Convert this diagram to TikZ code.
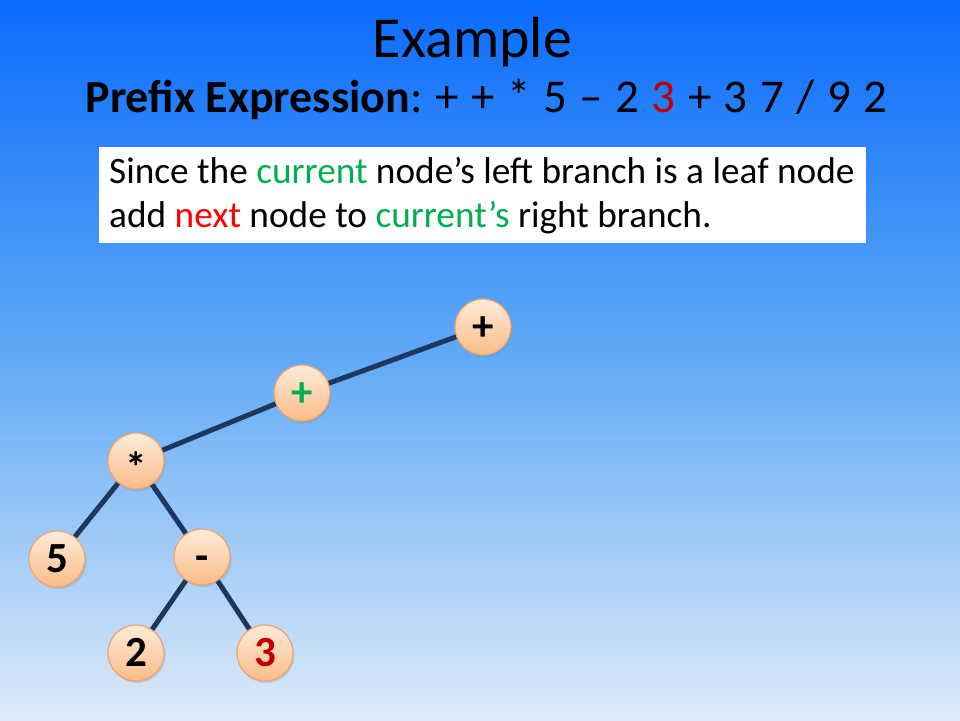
\documentclass[tikz,border=0pt]{standalone}
\usepackage{fontspec}
\setmainfont{Carlito}
\usetikzlibrary{shadows}
\definecolor{bgtop}{RGB}{10,108,252}
\definecolor{bgmid}{RGB}{98,170,246}
\definecolor{bgbot}{RGB}{222,234,249}
\definecolor{peachtop}{RGB}{255,236,218}
\definecolor{peachbot}{RGB}{250,188,136}
\definecolor{peachline}{RGB}{242,162,102}
\definecolor{edgeblue}{RGB}{28,56,94}
\definecolor{curgreen}{RGB}{0,176,80}
\definecolor{nextred}{RGB}{255,0,0}
\definecolor{darkred}{RGB}{192,0,0}
% the filled path is mapped onto the 25bp--75bp band of the shading
\pgfdeclareverticalshading{slidebg}{100bp}{%
  color(0bp)=(bgbot); color(25bp)=(bgbot); color(50bp)=(bgmid);
  color(75bp)=(bgtop); color(100bp)=(bgtop)}
% every node label sits on the same digit-height box
\newcommand{\glyph}[1]{\smash{#1}\vphantom{5}}
\tikzset{
  tnode/.style={circle, minimum size=56pt, inner sep=0pt,
    top color=peachtop, bottom color=peachbot, draw=peachline, line width=1.2pt,
    drop shadow={opacity=0.25, shadow xshift=1.5pt, shadow yshift=-2pt},
    font=\fontsize{43}{43}\selectfont\bfseries},
  branch/.style={draw=edgeblue, line width=5pt},
}
\begin{document}
\begin{tikzpicture}[x=1pt, y=-1pt]
  % slide background
  \shade[shading=slidebg] (0,0) rectangle (960,720);
  \useasboundingbox (0,0) rectangle (960,720);

  % heading
  \node[anchor=base, inner sep=0pt] (title) at (472.5,57) {\fontsize{58}{58}\selectfont Example};
  \node[anchor=base, inner sep=0pt] (expr) at (486.5,112)
    {{\fontsize{46}{46}\selectfont\textbf{Prefix Expression}}{\fontsize{47}{47}\selectfont
    :\spaceskip=12.5pt\ + + * 5 – 2 \textcolor{darkred}{3} + 3 7 / 9 2}};

  % explanation box
  \node[fill=white, inner sep=0pt, minimum width=767pt, minimum height=96pt,
        anchor=north west] (box) at (99,147) {};
  \node[anchor=west, align=left, inner sep=0pt, font=\fontsize{37.3}{44}\selectfont] (msg) at (109,196)
    {Since the \textcolor{curgreen}{current} node’s left branch is a leaf node\\
     add \textcolor{nextred}{next} node to \textcolor{curgreen}{current’s} right branch.};

  % expression tree
  \node[tnode] (root) at (483,327) {\glyph{+}};
  \node[tnode] (cur)  at (302,393) {\glyph{\textcolor{curgreen}{+}}};
  \node[tnode] (mul)  at (136,461) {\glyph{\raisebox{-8pt}{*}}};
  \node[tnode] (five) at (57,559) {\glyph{5}};
  \node[tnode] (sub)  at (202,557) {\glyph{-}};
  \node[tnode] (two)  at (136,653) {\glyph{2}};
  \node[tnode] (three) at (265,653) {\glyph{\textcolor{darkred}{3}}};

  \draw[branch] (root) -- (cur);
  \draw[branch] (cur) -- (mul);
  \draw[branch] (mul) -- (five);
  \draw[branch] (mul) -- (sub);
  \draw[branch] (sub) -- (two);
  \draw[branch] (sub) -- (three);
\end{tikzpicture}
\end{document}
